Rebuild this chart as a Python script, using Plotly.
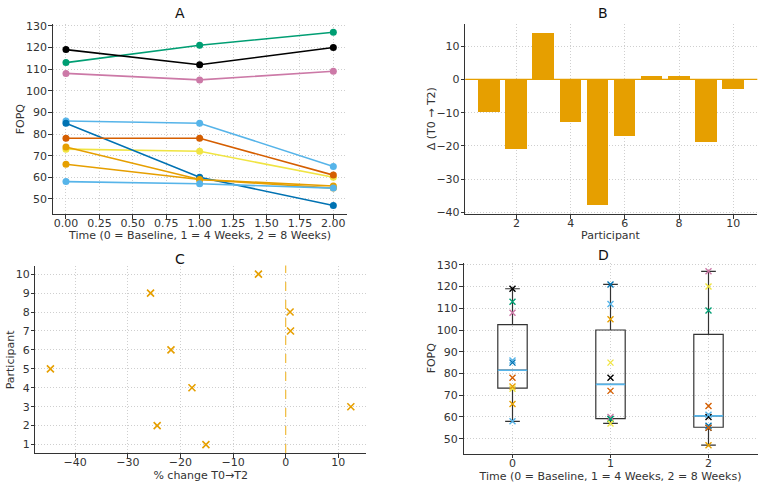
import numpy as np
import plotly.graph_objects as go
from plotly.subplots import make_subplots

# ---- data ----
participants = [1, 2, 3, 4, 5, 6, 7, 8, 9, 10]
times = [0, 1, 2]
fopq_t0 = [66, 86, 113, 73, 85, 78, 108, 119, 74, 58]
fopq_t1 = [59, 85, 121, 72, 60, 78, 105, 112, 59, 57]
fopq_t2 = [56, 65, 127, 60, 47, 61, 109, 120, 55, 55]

palette = ["#E69F00", "#56B4E9", "#009E73", "#F0E442",
           "#0072B2", "#D55E00", "#CC79A7", "#000000"]

series = [fopq_t0, fopq_t1, fopq_t2]
delta = [b - a for a, b in zip(fopq_t0, fopq_t2)]
pct = [d / a * 100 for d, a in zip(delta, fopq_t0)]

W, H = 767, 490
FONT = "DejaVu Sans"
TXT = "#333333"
GRID = "#cfcfcf"


def px_x(px):
    return px / W


def px_y(py):
    return 1 - py / H


fig = make_subplots(rows=2, cols=2)

# ---- Panel A: trajectories ----
for i, p in enumerate(participants):
    fig.add_trace(go.Scatter(
        x=times, y=[s[i] for s in series], mode="lines+markers",
        line=dict(color=palette[i % 8], width=1.6),
        marker=dict(color=palette[i % 8], size=7),
        showlegend=False), row=1, col=1)

# ---- Panel B: delta bars ----
fig.add_trace(go.Bar(x=participants, y=delta, width=0.8,
                     marker=dict(color="#E69F00", line=dict(width=0)),
                     showlegend=False), row=1, col=2)

# ---- Panel C: percent change ----
fig.add_trace(go.Scatter(
    x=pct, y=participants, mode="markers",
    marker=dict(symbol="x-thin", size=7, color="#E69F00",
                line=dict(color="#E69F00", width=1.6)),
    showlegend=False), row=2, col=1)

# ---- Panel D: boxplots ----
for t, s in zip(times, series):
    arr = np.array(s, dtype=float)
    q1, med, q3 = np.percentile(arr, [25, 50, 75])
    fig.add_trace(go.Box(
        x=[t], q1=[q1], median=[med], q3=[q3],
        lowerfence=[arr.min()], upperfence=[arr.max()],
        width=0.3, whiskerwidth=0.5,
        line=dict(color="#333333", width=1.2),
        fillcolor="rgba(0,0,0,0)", boxpoints=False,
        showlegend=False), row=2, col=2)
    fig.add_trace(go.Scatter(
        x=[t - 0.15, t + 0.15], y=[med, med], mode="lines",
        line=dict(color="#56B4E9", width=1.6),
        showlegend=False, hoverinfo="skip"), row=2, col=2)

for t, s in zip(times, series):
    for i, v in enumerate(s):
        c = palette[(t * len(participants) + i) % 8]
        fig.add_trace(go.Scatter(
            x=[t], y=[v], mode="markers",
            marker=dict(symbol="x-thin", size=6, color=c,
                        line=dict(color=c, width=1.4)),
            showlegend=False), row=2, col=2)

# ---- axes styling ----
common = dict(showline=True, linecolor="#333333", linewidth=1, mirror=False,
              ticks="outside", ticklen=3.5, tickcolor="#333333", tickwidth=1,
              showgrid=True, gridcolor=GRID, griddash="1px,2px", gridwidth=1,
              zeroline=False,
              tickfont=dict(family=FONT, size=11, color=TXT))

fig.update_xaxes(**common, ticklabelstandoff=-5)
fig.update_yaxes(**common, ticklabelstandoff=-1)

xtitle_font = dict(family=FONT, size=11, color=TXT)

# domains (pixel-measured)
fig.update_layout(
    xaxis=dict(domain=[px_x(52.6), px_x(346.7)], range=[-0.1, 2.1],
               tickmode="linear", tick0=0, dtick=0.25, tickformat=".2f"),
    yaxis=dict(domain=[px_y(214), px_y(20)], range=[43, 131],
               tickmode="linear", tick0=50, dtick=10),
    xaxis2=dict(domain=[px_x(465.3), px_x(757.3)], range=[0.11, 10.89],
                tickmode="array", tickvals=[2, 4, 6, 8, 10]),
    yaxis2=dict(domain=[px_y(214.3), px_y(20.7)], range=[-40.6, 16.6],
                tickmode="linear", tick0=-40, dtick=10),
    xaxis3=dict(domain=[px_x(35.4), px_x(366)], range=[-47.56, 15.27],
                tickmode="linear", tick0=-40, dtick=10,
                title=dict(text="% change T0→T2", font=xtitle_font, standoff=3)),
    yaxis3=dict(domain=[px_y(457.5), px_y(266.5)], range=[0.55, 10.45],
                tickmode="linear", tick0=1, dtick=1),
    xaxis4=dict(domain=[px_x(463.5), px_x(757.5)], range=[-0.5, 2.5],
                tickmode="array", tickvals=[0, 1, 2],
                title=dict(text="Time (0 = Baseline, 1 = 4 Weeks, 2 = 8 Weeks)",
                           font=xtitle_font, standoff=3)),
    yaxis4=dict(domain=[px_y(458.3), px_y(263.5)], range=[43, 131],
                tickmode="linear", tick0=50, dtick=10),
)

# reference lines
fig.add_shape(type="line", xref="x2 domain", yref="y2", x0=0, x1=1, y0=0, y1=0,
              line=dict(color="#E69F00", width=1.2))
fig.add_shape(type="line", xref="x3", yref="y3 domain", x0=0, x1=0, y0=0, y1=1,
              line=dict(color="#F0C04A", width=1.3, dash="dash"))

# titles & axis labels as annotations
anns = []


def add_text(text, x, y, size=11, angle=0, color=TXT, yanchor="middle"):
    anns.append(dict(text=text, x=px_x(x), y=px_y(y), xref="paper", yref="paper",
                     showarrow=False, xanchor="center", yanchor=yanchor,
                     textangle=angle, font=dict(family=FONT, size=size, color=color)))


add_text("A", 180, 9.5, size=14, color="#111111")
add_text("B", 603, 9.5, size=14, color="#111111")
add_text("C", 180, 259.5, size=14, color="#111111")
add_text("D", 603.5, 255.5, size=14, color="#111111")

add_text("Time (0 = Baseline, 1 = 4 Weeks, 2 = 8 Weeks)", 199.5, 236)
add_text("FOPQ", 20.5, 117, angle=-90)
add_text("Participant", 611, 236)
add_text("Δ (T0 → T2)", 431.5, 117, angle=-90)
add_text("Participant", 10, 362, angle=-90)
add_text("FOPQ", 431, 361, angle=-90)

fig.update_layout(
    annotations=anns,
    width=W, height=H,
    margin=dict(l=0, r=0, t=0, b=0),
    paper_bgcolor="white", plot_bgcolor="white",
    font=dict(family=FONT, size=11, color=TXT),
    showlegend=False, bargap=0,
)

fig.write_html("out.html")
